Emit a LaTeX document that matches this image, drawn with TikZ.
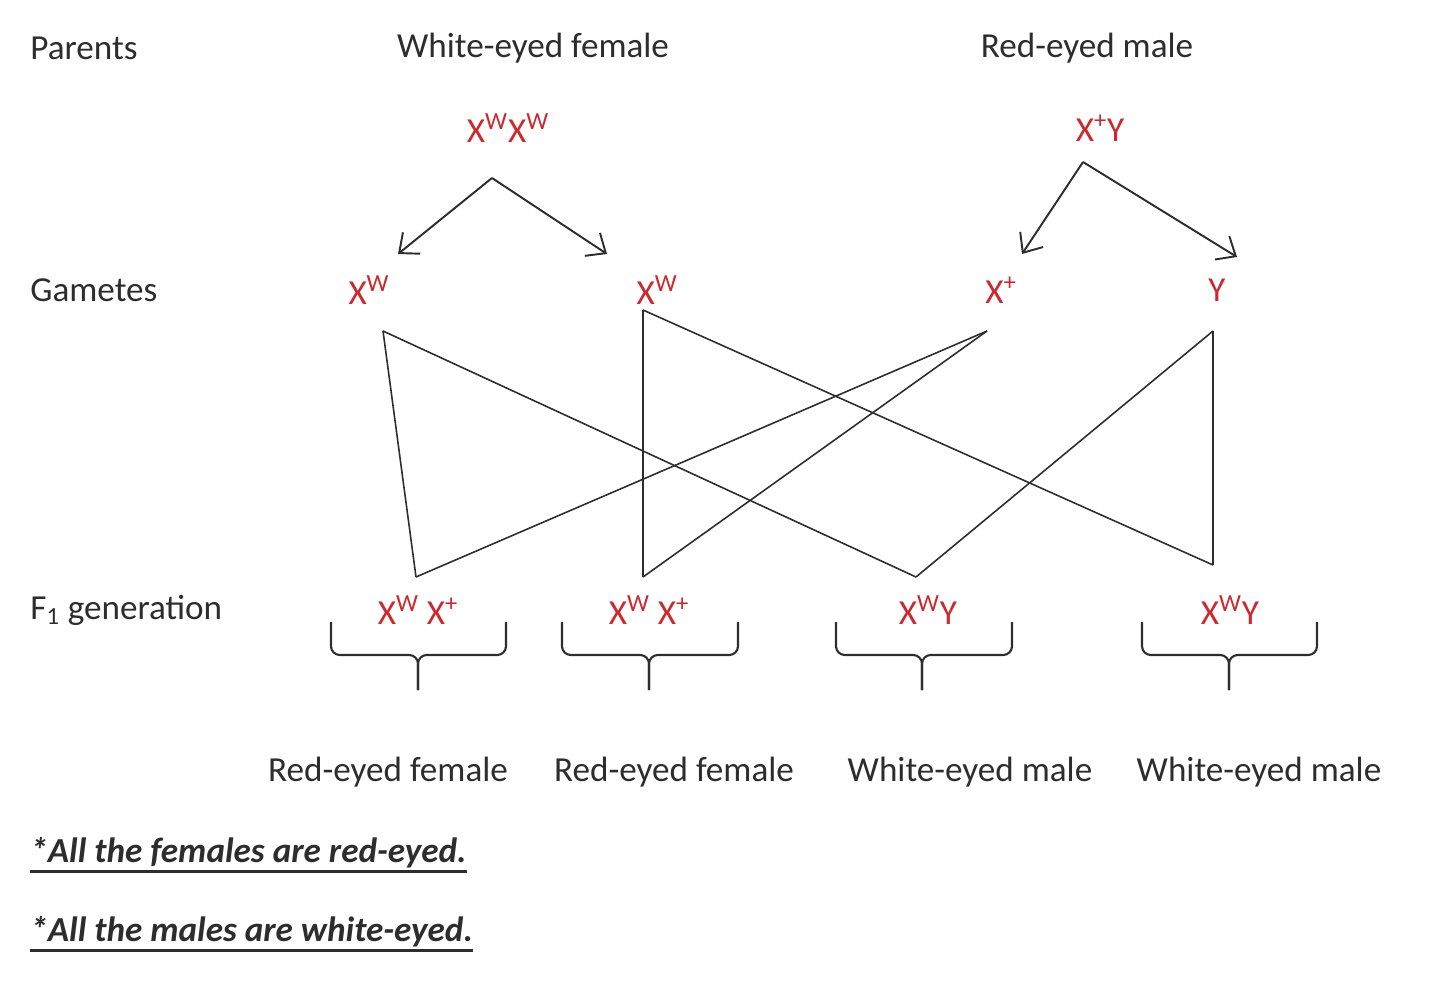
\documentclass[tikz,border=0pt]{standalone}
\usepackage{fontspec}
\setmainfont{Carlito}
\usetikzlibrary{arrows.meta}
\definecolor{genred}{RGB}{205,40,45}
\definecolor{ink}{RGB}{45,45,45}
\tikzset{
  lbl/.style={font=\fontsize{20}{24}\selectfont, text=ink, inner sep=0pt},
  gene/.style={lbl, text=genred},
  note/.style={lbl, anchor=west, font=\fontsize{20}{24}\selectfont\bfseries\itshape},
  cross/.style={draw=ink, line width=0.9pt},
  split/.style={draw=ink, line width=1.1pt, ->},
  bracket/.style={draw=ink, line width=1.2pt, rounded corners=5pt},
}
\begin{document}
\begin{tikzpicture}[x=0.2mm, y=-0.2mm, >={Straight Barb[length=3.2mm,width=5.5mm]}]
\useasboundingbox (0,0) rectangle (1440,999);
% row labels
\node[lbl, anchor=west] (parents) at (30,48) {Parents};
\node[lbl, anchor=west] (gametes) at (30,290) {Gametes};
\node[lbl, anchor=west] (fone) at (30,610) {F\textsubscript{1} generation};

% parents
\node[lbl] (mother) at (533,48) {White-eyed female};
\node[lbl] (father) at (1087,48) {Red-eyed male};
\node[gene] (mgeno) at (508,128) {X\textsuperscript{W}X\textsuperscript{W}};
\node[gene] (fgeno) at (1100,128) {X\textsuperscript{+}Y};

% gametes
\node[gene] (g1) at (369,290) {X\textsuperscript{W}};
\node[gene] (g2) at (657,290) {X\textsuperscript{W}};
\node[gene] (g3) at (1001,290) {X\textsuperscript{+}};
\node[gene] (g4) at (1217,290) {Y};

\coordinate (mtop) at (492,178);
\coordinate (mleft) at (398,254);
\coordinate (mright) at (607,254);
\coordinate (ftop) at (1083,162);
\coordinate (fleft) at (1022,254);
\coordinate (fright) at (1237,257);
\draw[split] (mtop) -- (mleft);
\draw[split] (mtop) -- (mright);
\draw[split] (ftop) -- (fleft);
\draw[split] (ftop) -- (fright);

% F1
\node[gene] (k1) at (418,610) {X\textsuperscript{W} X\textsuperscript{+}};
\node[gene] (k2) at (649,610) {X\textsuperscript{W} X\textsuperscript{+}};
\node[gene] (k3) at (928,610) {X\textsuperscript{W}Y};
\node[gene] (k4) at (1230,610) {X\textsuperscript{W}Y};

\coordinate (g1e) at (383,331);
\coordinate (g2e) at (643,310);
\coordinate (g3e) at (987,331);
\coordinate (g4e) at (1213,331);
\coordinate (k1e) at (416,577);
\coordinate (k2e) at (643,577);
\coordinate (k3e) at (916,577);
\coordinate (k4e) at (1213,565);
\foreach \a/\b in {g1e/k1e, g1e/k3e, g2e/k2e, g2e/k4e, g3e/k1e, g3e/k2e, g4e/k3e, g4e/k4e}
  \draw[cross] (\a) -- (\b);

\foreach \l/\c/\r in {331/418/506, 562/649/738, 836/922/1012, 1142/1229/1317}{
  \draw[bracket] (\l,622) -- (\l,655) -- (\c,655) -- (\c,690);
  \draw[bracket] (\r,622) -- (\r,655) -- (\c,655) -- (\c,690);
}

% phenotypes
\node[lbl] (p1) at (388,772) {Red-eyed female};
\node[lbl] (p2) at (674,772) {Red-eyed female};
\node[lbl] (p3) at (970,772) {White-eyed male};
\node[lbl] (p4) at (1259,772) {White-eyed male};

% notes
\node[note] (note1) at (30,853) {*All the females are red-eyed.};
\node[note] (note2) at (30,932) {*All the males are white-eyed.};
\draw[ink, line width=1.5pt] ([yshift=-5pt]note1.base west) -- ([yshift=-5pt]note1.base east);
\draw[ink, line width=1.5pt] ([yshift=-5pt]note2.base west) -- ([yshift=-5pt]note2.base east);
\end{tikzpicture}
\end{document}
